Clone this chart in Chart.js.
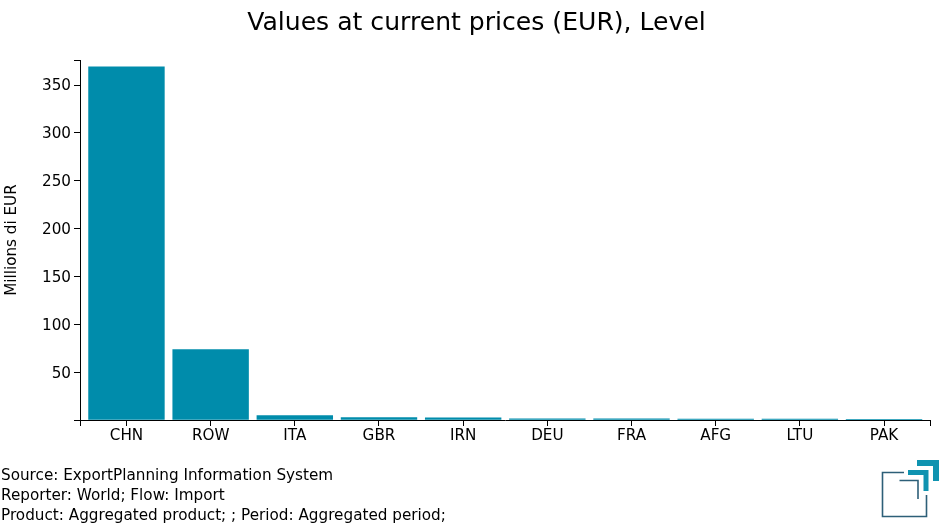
<!DOCTYPE html>
<html><head><meta charset="utf-8">
<script src="https://cdn.jsdelivr.net/npm/chart.js@4"></script>
<style>
html,body{margin:0;padding:0;background:#fff;width:950px;height:530px;overflow:hidden}
#wrap{position:relative;width:950px;height:530px}
#note{position:absolute;left:1px;top:465px;font:15.23px/20px "DejaVu Sans",sans-serif;color:#000;white-space:pre}
#logo{position:absolute;left:0;top:0}
</style></head><body>
<div id="wrap">
<canvas id="c" width="950" height="530"></canvas>
<div id="note">Source: ExportPlanning Information System
Reporter: World; Flow: Import
Product: Aggregated product; ; Period: Aggregated period;</div>
<svg id="logo" width="950" height="530" fill="none">
<path d="M904 472.5H882.5V516.5H926.5V495" stroke="#2d5f78" stroke-width="1.6"/>
<path d="M899.5 480.5H918V499" stroke="#2d5f78" stroke-width="1.6"/>
<path d="M908 472.5H926V491" stroke="#0f93b0" stroke-width="5"/>
<path d="M917 463H936V481" stroke="#0f93b0" stroke-width="6"/>
</svg>
</div>
<script>
const categories = ['CHN','ROW','ITA','GBR','IRN','DEU','FRA','AFG','LTU','PAK'];
const values = [369, 73.6, 4.5, 2.4, 2.3, 1.2, 1.1, 1.0, 0.9, 0.05];
const yMax = 376;
const titleText = 'Values at current prices (EUR), Level';
const yTitle = 'Millions di EUR';
const font = {family:'"DejaVu Sans"', size:15.2};

const centerTitle = {
  id:'centerTitle',
  afterLayout(chart){
    chart.titleBlock.left = 3;
    chart.titleBlock.right = chart.width;
  }
};

new Chart(document.getElementById('c'), {
  type:'bar',
  plugins:[centerTitle],
  data:{
    labels:categories,
    datasets:[{
      data:values.map((v,i)=>({x:i,y:v})),
      backgroundColor:'#008cab',
      borderWidth:0,
      barThickness:'flex',
      barPercentage:0.9,
      categoryPercentage:1
    }]
  },
  options:{
    responsive:false,
    animation:false,
    layout:{padding:{left:0,right:19.5,top:0,bottom:0}},
    plugins:{
      legend:{display:false},
      tooltip:{enabled:false},
      title:{display:true,text:titleText,color:'#000',
        font:{family:'"DejaVu Sans"',size:25.1,weight:'normal'},
        padding:{top:8,bottom:22}}
    },
    scales:{
      x:{
        type:'linear',min:-0.552,max:9.552,offset:false,
        afterBuildTicks:s=>{
          s.ticks=[{value:s.min},...categories.map((c,i)=>({value:i})),{value:s.max}];
        },
        ticks:{autoSkip:false,maxRotation:0,color:'#000',font,padding:1,
          callback:v=>Number.isInteger(v)?(categories[v]??''):''},
        grid:{offset:false,drawOnChartArea:false,drawTicks:true,tickLength:6,color:'#000',lineWidth:1},
        border:{display:true,color:'#000',width:1},
        afterFit:s=>{s.height=110}
      },
      y:{
        min:0,max:yMax,
        ticks:{stepSize:50,includeBounds:true,autoSkip:false,color:'#000',font,padding:3,labelOffset:1.5,
          callback:v=>(v===0||v===yMax)?'':v},
        grid:{drawOnChartArea:false,drawTicks:true,tickLength:6,color:'#000',lineWidth:1},
        border:{display:true,color:'#000',width:1},
        title:{display:true,text:yTitle,color:'#000',font,padding:{top:3,bottom:0}},
        afterFit:s=>{s.width=80}
      }
    }
  }
});
</script>
</body></html>
